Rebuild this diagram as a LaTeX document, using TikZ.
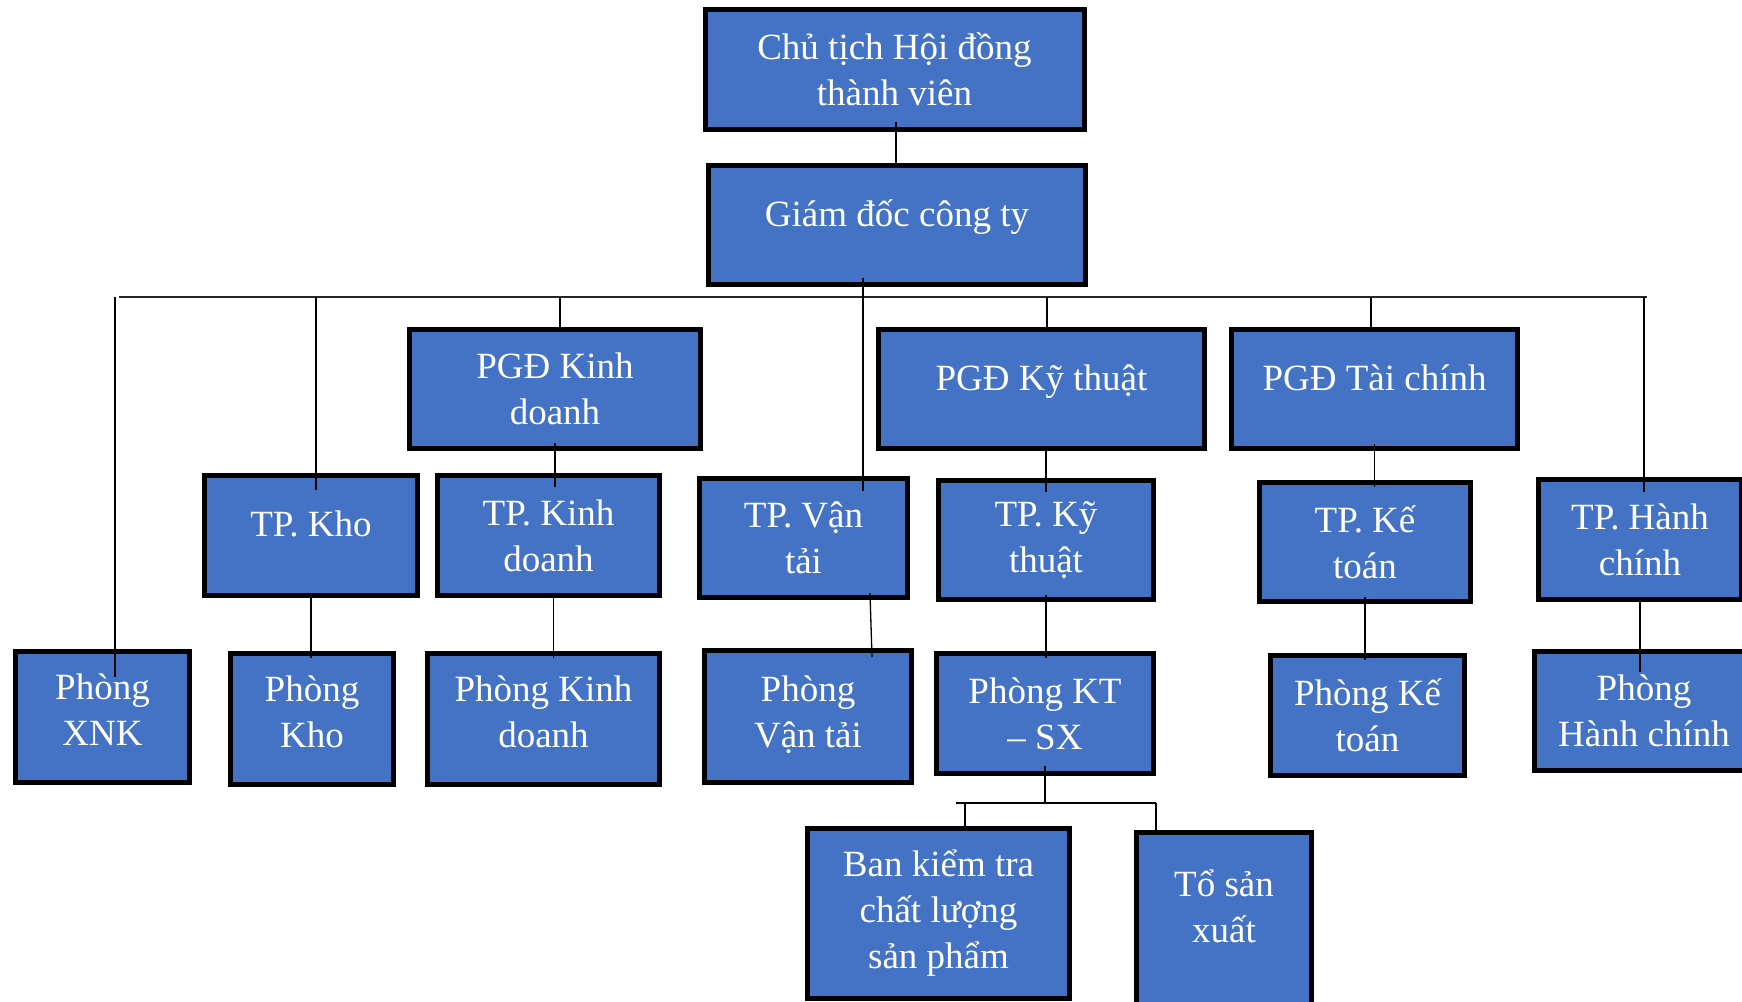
\documentclass[tikz,border=0pt]{standalone}
\usepackage{fontspec}
\setmainfont{Liberation Serif}
\usepackage{tikz}
\usetikzlibrary{positioning, calc}
\usepackage{xcolor}
\definecolor{boxblue}{RGB}{68,114,196}
\tikzset{
    % Org chart boxes
    orgbox/.style={rectangle, draw=black, line width=5pt, fill=boxblue,
                text=white, align=center, inner sep=2pt,
                font=\fontsize{37}{46}\selectfont},
    oneline/.style={text height=34pt, text depth=32pt},
    raised/.style={text depth=14pt},
    % Connectors
    link/.style={draw=black, line width=1.3pt},
    buslink/.style={draw=black!85, line width=2pt},
}
\begin{document}
\begin{tikzpicture}[x=1pt, y=-1pt]
\useasboundingbox (0,0) rectangle (1742,1001);

% Top
\node[orgbox, minimum width=379pt, minimum height=120pt] (ct) at (894.5,69.5) {Chủ tịch Hội đồng\\thành viên};
\node[orgbox, oneline, minimum width=377pt, minimum height=119pt] (gd) at (897,225) {Giám đốc công ty};

% Deputy directors
\node[orgbox, minimum width=291pt, minimum height=119pt] (pgdkd) at (555,389) {PGĐ Kinh\\doanh};
\node[orgbox, oneline, minimum width=326pt, minimum height=119pt] (pgdkt) at (1041.5,389) {PGĐ Kỹ thuật};
\node[orgbox, oneline, minimum width=286pt, minimum height=119pt] (pgdtc) at (1374.5,389) {PGĐ Tài chính};

% Heads of department
\node[orgbox, oneline, minimum width=213pt, minimum height=120pt] (tpkho) at (311,535.5) {TP. Kho};
\node[orgbox, minimum width=222pt, minimum height=120pt] (tpkd) at (548.5,535.5) {TP. Kinh\\doanh};
\node[orgbox, minimum width=208pt, minimum height=119pt] (tpvt) at (803.5,538) {TP. Vận\\tải};
\node[orgbox, minimum width=215pt, minimum height=119pt] (tpkt) at (1046,540) {TP. Kỹ\\thuật};
\node[orgbox, minimum width=211pt, minimum height=119pt] (tpkto) at (1365,542) {TP. Kế\\toán};
\node[orgbox, minimum width=203pt, minimum height=120pt] (tphc) at (1640,539.5) {TP. Hành\\chính};

% Departments
\node[orgbox, raised, minimum width=174pt, minimum height=131pt] (pxnk) at (102.5,717) {Phòng\\XNK};
\node[orgbox, raised, minimum width=163pt, minimum height=131pt] (pkho) at (312,719) {Phòng\\Kho};
\node[orgbox, raised, minimum width=232pt, minimum height=131pt] (pkd) at (543.5,719) {Phòng Kinh\\doanh};
\node[orgbox, text depth=10pt, minimum width=207pt, minimum height=132pt] (pvt) at (808,716.5) {Phòng\\Vận tải};
\node[orgbox, minimum width=217pt, minimum height=120pt] (pktsx) at (1045,713.5) {Phòng KT\\-- SX};
\node[orgbox, minimum width=194pt, minimum height=120pt] (pkto) at (1367.5,715.5) {Phòng Kế\\toán};
\node[orgbox, minimum width=219pt, minimum height=119pt] (phc) at (1644,711) {Phòng\\Hành chính};

% Production units
\node[orgbox, minimum width=262pt, minimum height=170pt] (bkt) at (938.5,913.5) {Ban kiểm tra\\chất lượng\\sản phẩm};
\node[orgbox, text depth=37pt, minimum width=175pt, minimum height=185pt] (tsx) at (1224,925) {Tổ sản\\xuất};

% Bus lines
\coordinate (busL) at (119,297);
\coordinate (busR) at (1647,297);
\coordinate (hub) at (863,297);
\coordinate (bus2L) at (956,803);
\coordinate (bus2R) at (1156,803);
\draw[buslink] (busL) -- (busR);
\draw[link] (bus2L) -- (bus2R);

% Top connectors
\draw[link] ([xshift=1.5pt,yshift=10pt]ct.south) -- ([xshift=1.5pt]gd.north -| ct.south);
\draw[link] ([yshift=9pt]gd.south -| hub) -- ([yshift=-15pt]tpvt.north -| hub);

% Drops from bus
\draw[link] ([xshift=12.5pt]pxnk.north |- busL) -- ([xshift=12.5pt,yshift=-28pt]pxnk.north);
\draw[link] ([xshift=5pt]tpkho.north |- busL) -- ([xshift=5pt,yshift=-17pt]tpkho.north);
\draw[link] ([xshift=5pt]pgdkd.north |- busL) -- ([xshift=5pt]pgdkd.north);
\draw[link] ([xshift=5.5pt]pgdkt.north |- busL) -- ([xshift=5.5pt]pgdkt.north);
\draw[link] ([xshift=-3.5pt]pgdtc.north |- busL) -- ([xshift=-3.5pt]pgdtc.north);
\draw[link] ([xshift=4pt]tphc.north |- busL) -- ([xshift=4pt,yshift=-15pt]tphc.north);

% Sub connectors
\draw[link] ([yshift=8pt]pgdkd.south) -- ([yshift=-14pt]tpkd.north -| pgdkd.south);
\draw[link] (pgdkt.south -| tpkt.north) -- ([yshift=-14pt]tpkt.north);
\draw[link] ([yshift=7pt]pgdtc.south) -- ([yshift=-7pt]tpkto.north -| pgdtc.south);
\draw[link] (tpkho.south) -- ([yshift=-7pt]pkho.north -| tpkho.south);
\draw[link] ([xshift=5pt]tpkd.south) -- ([xshift=5pt,yshift=-7pt]pkd.north -| tpkd.south);
\draw[link] ([xshift=66.5pt,yshift=7pt]tpvt.south) -- ([xshift=64pt,yshift=-9pt]pvt.north);
\draw[link] ([yshift=7pt]tpkt.south) -- ([yshift=-7pt]pktsx.north -| tpkt.south);
\draw[link] ([yshift=7pt]tpkto.south) -- ([yshift=-7pt]pkto.north -| tpkto.south);
\draw[link] (tphc.south) -- ([yshift=-23pt]phc.north -| tphc.south);
\draw[link] ([yshift=10pt]pktsx.south) -- (pktsx.south |- bus2L);
\draw[link] ([xshift=26.5pt]bkt.north |- bus2L) -- ([xshift=26.5pt]bkt.north);
\draw[link] (bus2R) -- (tsx.north -| bus2R);
\end{tikzpicture}
\end{document}
